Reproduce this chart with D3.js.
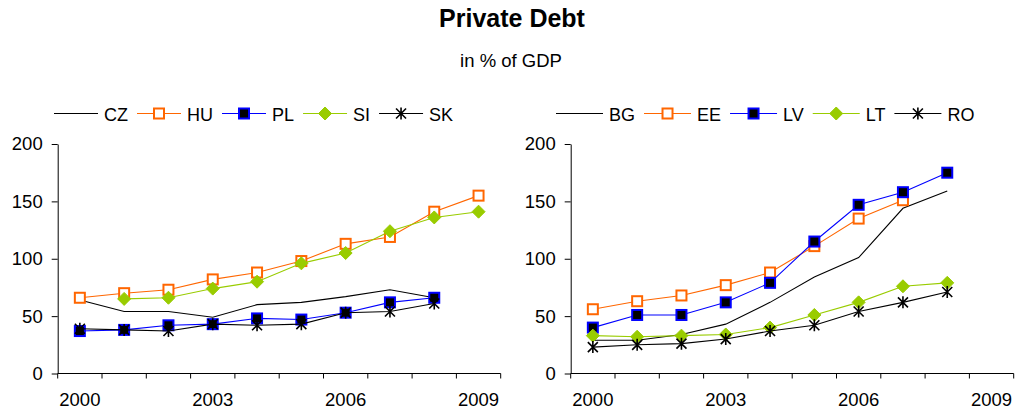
<!DOCTYPE html>
<html>
<head>
<meta charset="utf-8">
<script src="https://cdn.jsdelivr.net/npm/d3@7"></script>
<style>
    body { margin: 0; background: #fff; }
    svg text { font-family: "Liberation Sans", Arial, sans-serif; fill: #000; }
</style>
</head>
<body>
<svg id="chart" width="1018" height="415"></svg>
<script>
// years on the category axis and the ones that get a label
const years = [2000, 2001, 2002, 2003, 2004, 2005, 2006, 2007, 2008, 2009];
const labelYears = [2000, 2003, 2006, 2009];
const yTicks = [0, 50, 100, 150, 200];

// left panel
const CZ = [64, 54, 54, 49, 60, 62, 67, 73, 66, null];
const HU = [66, 70, 73, 82, 88, 98, 113, 119, 141, 155];
const PL = [37, 38, 42, 43, 48, 47, 53, 62, 66, null];
const SI = [null, 65, 66, 74, 80, 96, 105, 124, 136, 141];
const SK = [39, 38, 37, 43, 42, 43, 53, 54, 61, null];

// right panel
const BG = [29, 29, 34, 43, 62, 84, 101, 144, 159, null];
const EE = [56, 63, 68, 77, 88, 111, 135, 151, null, null];
const LV = [40, 51, 51, 62, 79, 115, 147, 158, 175, null];
const LT = [33, 32, 33, 34, 40, 51, 62, 76, 79, null];
const RO = [23, 25, 26, 30, 37, 42, 54, 62, 71, null];

const leftSeries = [
    {name: 'CZ', values: CZ, style: 'plain'},
    {name: 'HU', values: HU, style: 'open'},
    {name: 'PL', values: PL, style: 'filled'},
    {name: 'SI', values: SI, style: 'diamond'},
    {name: 'SK', values: SK, style: 'star'}
];
const rightSeries = [
    {name: 'BG', values: BG, style: 'plain'},
    {name: 'EE', values: EE, style: 'open'},
    {name: 'LV', values: LV, style: 'filled'},
    {name: 'LT', values: LT, style: 'diamond'},
    {name: 'RO', values: RO, style: 'star'}
];

const styles = {
    plain:   {stroke: '#000000'},
    open:    {stroke: '#FF6600'},
    filled:  {stroke: '#0000FF'},
    diamond: {stroke: '#99CC00'},
    star:    {stroke: '#000000'}
};

const svg = d3.select('#chart');

svg.append('text')
    .attr('x', 512).attr('y', 27)
    .attr('text-anchor', 'middle')
    .style('font-size', '25px').style('font-weight', 'bold')
    .text('Private Debt');
svg.append('text')
    .attr('x', 511).attr('y', 66.5)
    .attr('text-anchor', 'middle')
    .style('font-size', '18.5px')
    .text('in % of GDP');

/**
 * Draws one marker of the given style at the origin of g.
 */
function drawMarker(g, style) {
    if (style === 'open') {
        g.append('rect').attr('x', -5).attr('y', -5).attr('width', 10).attr('height', 10)
            .attr('fill', '#fff').attr('stroke', '#FF6600').attr('stroke-width', 2);
    } else if (style === 'filled') {
        g.append('rect').attr('x', -5).attr('y', -5).attr('width', 10).attr('height', 10)
            .attr('fill', '#000').attr('stroke', '#0000FF').attr('stroke-width', 2);
    } else if (style === 'diamond') {
        g.append('path').attr('d', 'M0,-6.5L6.5,0L0,6.5L-6.5,0Z')
            .attr('fill', '#99CC00').attr('stroke', '#99CC00').attr('stroke-width', 1);
    } else if (style === 'star') {
        g.append('path').attr('d', 'M-5,-5L5,5M-5,5L5,-5M0,-6L0,6')
            .attr('fill', 'none').attr('stroke', '#000').attr('stroke-width', 1.6);
    }
}

/**
 * Draws one panel: axes, lines, markers and legend.
 */
function drawPanel(left, series, legendX, legendLine) {
    let x = d3.scaleBand().domain(years).range([left, left + 443]);
    let y = d3.scaleLinear().domain([0, 200]).range([373.5, 144]);
    let g = svg.append('g');

    // y axis
    let yAxis = g.append('g')
        .attr('transform', 'translate(' + left + ',0)')
        .call(d3.axisLeft(y).tickValues(yTicks).tickSize(6).tickPadding(9).tickSizeOuter(0));
    yAxis.select('.domain').attr('stroke', '#000');
    yAxis.selectAll('text').style('font-size', '18.5px');

    // x axis: ticks between categories, labels on a few centres
    let base = y(0);
    g.append('line')
        .attr('x1', left).attr('x2', left + 443)
        .attr('y1', base).attr('y2', base)
        .attr('stroke', '#000');
    let edges = years.map(d => x(d)).concat([x.range()[1]]);
    g.selectAll('.xtick')
        .data(edges)
        .enter()
        .append('line')
        .attr('class', 'xtick')
        .attr('x1', d => d).attr('x2', d => d)
        .attr('y1', base).attr('y2', base + 5)
        .attr('stroke', '#000');
    g.selectAll('.xlabel')
        .data(labelYears)
        .enter()
        .append('text')
        .attr('class', 'xlabel')
        .attr('x', d => x(d) + x.bandwidth() / 2)
        .attr('y', 406)
        .attr('text-anchor', 'middle')
        .style('font-size', '18.5px')
        .text(d => d);

    // series lines then markers, in order so later ones sit on top
    let line = d3.line()
        .defined(d => d.v !== null)
        .x(d => x(d.year) + x.bandwidth() / 2)
        .y(d => y(d.v));
    series.forEach(s => {
        let pts = years.map((yr, i) => ({year: yr, v: s.values[i]}));
        g.append('path')
            .datum(pts)
            .attr('d', line)
            .attr('fill', 'none')
            .attr('stroke', styles[s.style].stroke)
            .attr('stroke-width', 1.1);
        if (s.style !== 'plain') {
            g.selectAll('.m' + s.name)
                .data(pts.filter(d => d.v !== null))
                .enter()
                .append('g')
                .attr('class', 'm' + s.name)
                .attr('transform', d => 'translate(' + (x(d.year) + x.bandwidth() / 2) + ',' + y(d.v) + ')')
                .each(function() { drawMarker(d3.select(this), s.style); });
        }
    });

    // legend
    let lx = legendX;
    let ly = 113.5;
    series.forEach(s => {
        let item = g.append('g');
        item.append('line')
            .attr('x1', lx).attr('x2', lx + legendLine)
            .attr('y1', ly).attr('y2', ly)
            .attr('stroke', styles[s.style].stroke)
            .attr('stroke-width', 1.1);
        if (s.style !== 'plain') {
            let m = item.append('g').attr('transform', 'translate(' + (lx + legendLine / 2) + ',' + ly + ')');
            drawMarker(m, s.style);
        }
        let t = item.append('text')
            .attr('x', lx + legendLine + 6)
            .attr('y', ly + 7)
            .style('font-size', '18px')
            .text(s.name);
        lx += legendLine + 6 + t.node().getComputedTextLength() + 9;
    });
}

drawPanel(57.7, leftSeries, 54, 44);
drawPanel(570.7, rightSeries, 556, 47);
</script>
</body>
</html>
